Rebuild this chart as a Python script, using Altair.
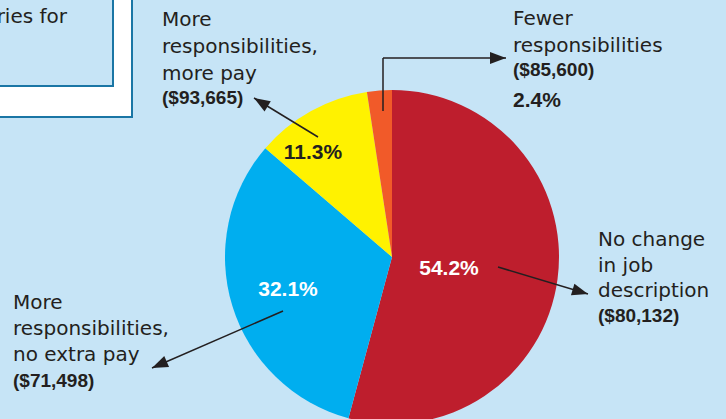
import math
import altair as alt
import pandas as pd

# ---------------- data ----------------
categories = ["No change in job description", "More responsibilities, no extra pay",
              "More responsibilities, more pay", "Fewer responsibilities"]
shares = [54.2, 32.1, 11.3, 2.4]
salaries = ["($80,132)", "($71,498)", "($93,665)", "($85,600)"]
pct_labels = ["54.2%", "32.1%", "11.3%", "2.4%"]
label_lines = [["No change", "in job", "description"],
               ["More", "responsibilities,", "no extra pay"],
               ["More", "responsibilities,", "more pay"],
               ["Fewer", "responsibilities"]]
box_text = "ries for"

# ---------------- styles ----------------
slice_colors = ["#be1e2d", "#00aeef", "#fff200", "#f15a29"]
BG = "#c6e4f6"
INK = "#231f20"
FRAME = "#1a76a5"
REG = "DejaVu Sans, Liberation Sans, sans-serif"
NARROW = "Liberation Sans Narrow, Liberation Sans, Arial, sans-serif"

# ---------------- layout (pixels) ----------------
CX, CY, R = 392, 257, 167
label_pos = [(598, 246, 25.5), (13, 309, 26), (162, 26, 27), (513, 25, 27)]
value_base = [322, 387, 104, 76]
pct_pos = [(449, 275, "white"), (288, 296, "white"), (313, 159, INK), (513, 107, INK)]
pct_align = ["center", "center", "center", "left"]
arrows = [[(498, 267), (588, 294)],
          [(283, 311), (152, 368)],
          [(318, 137), (254, 98)],
          [(383, 111), (383, 58), (506, 58)]]

# ---------------- tables ----------------
pie_df = pd.DataFrame({"category": categories, "share": shares, "idx": range(len(shares))})

line_rows = []
for (x, y0, step), lines in zip(label_pos, label_lines):
    for i, t in enumerate(lines):
        line_rows.append({"x": x, "y": y0 + i * step, "text": t})
lines_df = pd.DataFrame(line_rows)

val_df = pd.DataFrame({"x": [p[0] for p in label_pos], "y": value_base, "text": salaries})

pct_df = pd.DataFrame({"x": [p[0] for p in pct_pos], "y": [p[1] for p in pct_pos],
                       "tc": [p[2] for p in pct_pos], "text": pct_labels, "align": pct_align})

seg_rows, head_rows = [], []
for pts in arrows:
    for a, b in zip(pts[:-1], pts[1:]):
        seg_rows.append({"x": a[0], "y": a[1], "x2": b[0], "y2": b[1]})
    (px, py), (qx, qy) = pts[-2], pts[-1]
    ang = math.degrees(math.atan2(qx - px, -(qy - py))) % 360
    head_rows.append({"x": qx, "y": qy, "angle": ang})
seg_df = pd.DataFrame(seg_rows)
head_df = pd.DataFrame(head_rows)

box_df = pd.DataFrame({"x": [-10, -10], "x2": [132, 113], "y": [-10, -10], "y2": [117, 86],
                       "fill": ["white", BG]})
boxtext_df = pd.DataFrame({"x": [67], "y": [23], "text": [box_text]})

X = lambda f: alt.X(f, scale=None, axis=None)
Y = lambda f: alt.Y(f, scale=None, axis=None)

boxes = alt.Chart(box_df).mark_rect(stroke=FRAME, strokeWidth=2).encode(
    x=X("x:Q"), x2="x2:Q", y=Y("y:Q"), y2="y2:Q", fill=alt.Fill("fill:N", scale=None))
boxtext = alt.Chart(boxtext_df).mark_text(font=REG, fontSize=20, align="right",
                                          baseline="alphabetic", color=INK).encode(
    x=X("x:Q"), y=Y("y:Q"), text="text:N")

pie = alt.Chart(pie_df).mark_arc(outerRadius=R, x=CX, y=CY).encode(
    theta=alt.Theta("share:Q", stack=True),
    order=alt.Order("idx:Q"),
    color=alt.Color("category:N", scale=alt.Scale(domain=categories, range=slice_colors), legend=None))

segs = alt.Chart(seg_df).mark_rule(color=INK, strokeWidth=1.5).encode(
    x=X("x:Q"), y=Y("y:Q"), x2="x2:Q", y2="y2:Q")
heads = alt.Chart(head_df).mark_point(shape="M0,0 L0.75,2 L-0.75,2 Z", filled=True, size=256,
                                      color=INK, opacity=1, strokeWidth=0).encode(
    x=X("x:Q"), y=Y("y:Q"), angle=alt.Angle("angle:Q", scale=None))

lines_t = alt.Chart(lines_df).mark_text(font=REG, fontSize=20, align="left",
                                        baseline="alphabetic", color=INK).encode(
    x=X("x:Q"), y=Y("y:Q"), text="text:N")
vals_t = alt.Chart(val_df).mark_text(font=NARROW, fontWeight="bold", fontSize=19, align="left",
                                     baseline="alphabetic", color=INK).encode(
    x=X("x:Q"), y=Y("y:Q"), text="text:N")
pct_c = alt.Chart(pct_df).transform_filter("datum.align == 'center'").mark_text(
    font=NARROW, fontWeight="bold", fontSize=21, align="center", baseline="alphabetic").encode(
    x=X("x:Q"), y=Y("y:Q"), text="text:N", color=alt.Color("tc:N", scale=None))
pct_l = alt.Chart(pct_df).transform_filter("datum.align == 'left'").mark_text(
    font=NARROW, fontWeight="bold", fontSize=21, align="left", baseline="alphabetic").encode(
    x=X("x:Q"), y=Y("y:Q"), text="text:N", color=alt.Color("tc:N", scale=None))

chart = alt.layer(boxes, boxtext, pie, segs, heads, lines_t, vals_t, pct_c, pct_l).properties(
    width=726, height=419, padding=0, autosize="none", background=BG
).configure_view(stroke=None)

chart.save("out.html", embed_options={"renderer": "svg", "actions": False})
